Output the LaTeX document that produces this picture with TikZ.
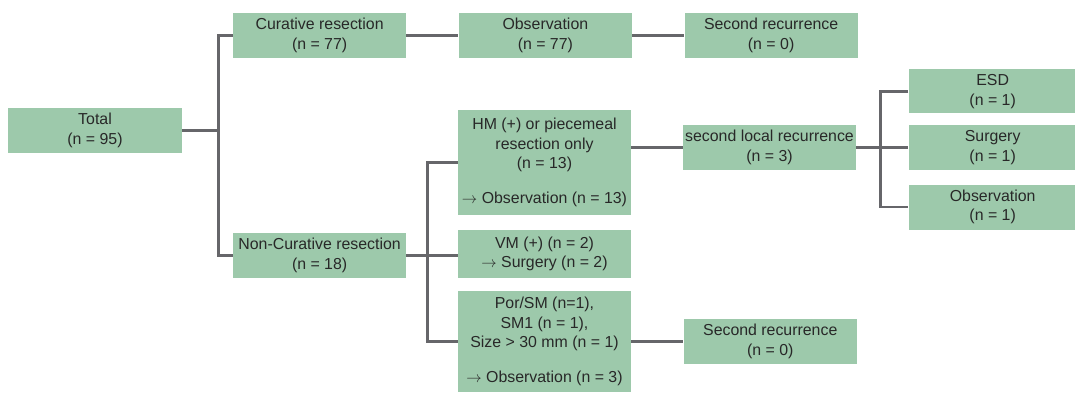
\documentclass[tikz,border=0pt]{standalone}
\usepackage{fontspec}
\setmainfont{Liberation Sans}
\usetikzlibrary{positioning,calc}
\definecolor{boxgreen}{RGB}{157,201,171}
\definecolor{linegray}{RGB}{102,102,106}
\definecolor{textgray}{RGB}{40,40,40}
\tikzset{
  box/.style={fill=boxgreen,minimum height=11.25mm,minimum width=43.3mm,align=center,inner sep=1pt,text=textgray,font=\fontsize{11.3}{13.8}\selectfont},
  link/.style={draw=linegray,line width=1.9pt}
}
\begin{document}
\begin{tikzpicture}[node distance=13mm]
\useasboundingbox (0,0) rectangle (26.875,-9.825);
\node[box,minimum width=43.5mm] (total) at (2.375,-3.2625) {Total\\(n = 95)};
\node[box] (curative) at (7.99,-0.8875) {Curative resection\\(n = 77)};
\node[box,right=of curative] (observ) {Observation\\(n = 77)};
\node[box,right=of observ] (secrec) {Second recurrence\\(n = 0)};
\node[box] (noncur) at (7.99,-6.3875) {Non-Curative resection\\(n = 18)};
\node[box,minimum height=26.25mm] (hm) at (13.6125,-4.0625) {HM (+) or piecemeal\\resection only\\(n = 13)\\[11pt]$\rightarrow$ Observation (n = 13)};
\node[box,minimum height=12mm] (vm) at (13.6125,-6.35) {VM (+) (n = 2)\\$\rightarrow$ Surgery (n = 2)};
\node[box,minimum height=25.25mm] (por) at (13.6125,-8.5375) {Por/SM (n=1),\\SM1 (n = 1),\\Size > 30 mm (n = 1)\\[11pt]$\rightarrow$ Observation (n = 3)};
\node[box,right=of por] (secrec2) {Second recurrence\\(n = 0)};
\node[box] (slr) at (19.2375,-3.6875) {second local recurrence\\(n = 3)};
\node[box,right=of slr,minimum width=42mm] (surgery) {Surgery\\(n = 1)};
\node[box,above=2.75mm of surgery,minimum width=42mm,minimum height=11mm] (esd) {ESD\\(n = 1)};
\node[box,below=3.5mm of surgery,minimum width=42mm] (obsr) {Observation\\(n = 1)};
% branch points of the tree
\coordinate (fork1) at ($(total.east)+(0.9,0)$);
\coordinate (fork2) at ($(noncur.east)+(0.525,0)$);
\coordinate (fork3) at ($(slr.east)+(0.6,0)$);
\draw[link] (total.east) -- (fork1);
\draw[link] (curative.west) -| (fork1) |- (noncur.west);
\draw[link] (curative) -- (observ);
\draw[link] (observ) -- (secrec);
\draw[link] (noncur.east) -- (fork2);
\draw[link] (hm.west) -| (fork2) |- (por.west);
\draw[link] (fork2) -- (fork2 -| vm.west);
\draw[link] (slr.west -| hm.east) -- (slr.west);
\draw[link] (por) -- (secrec2);
\draw[link] (slr.east) -- (fork3);
\draw[link] (esd.west) -| (fork3) |- (obsr.west);
\draw[link] (fork3) -- (surgery.west);
\end{tikzpicture}
\end{document}
